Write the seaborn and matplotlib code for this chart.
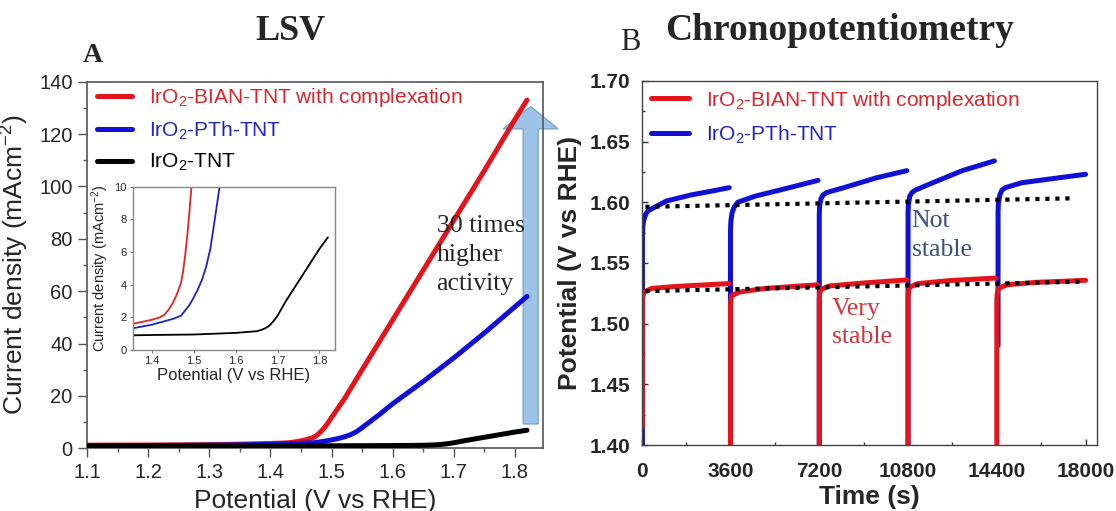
import numpy as np
import pandas as pd
import seaborn as sns
import matplotlib.pyplot as plt
from matplotlib.lines import Line2D
from matplotlib.patches import FancyArrow
from matplotlib.ticker import MultipleLocator, FormatStrFormatter

sns.set_style("ticks")
plt.rcParams["font.family"] = ["Liberation Sans", "DejaVu Sans"]
plt.rcParams["mathtext.default"] = "regular"

# ---- LSV data (potential V vs RHE, current density mA cm-2)
lsv_E_red = [1.10, 1.20, 1.30, 1.355, 1.40, 1.42, 1.43, 1.44, 1.45, 1.46, 1.47, 1.475,
             1.48, 1.485, 1.49, 1.495, 1.50, 1.52, 1.55, 1.60, 1.65, 1.70, 1.75, 1.80, 1.82]
lsv_j_red = [1.2, 1.25, 1.4, 1.6, 1.85, 2.0, 2.15, 2.45, 2.85, 3.4, 4.1, 4.8,
             5.8, 7.0, 8.4, 10.0, 11.8, 18.5, 30.0, 49.0, 68.0, 87.0, 106.0, 125.5, 133.0]
lsv_E_blue = [1.10, 1.20, 1.30, 1.355, 1.40, 1.45, 1.47, 1.49, 1.50, 1.51, 1.52, 1.53,
              1.54, 1.55, 1.562, 1.58, 1.60, 1.65, 1.70, 1.75, 1.80, 1.82]
lsv_j_blue = [1.0, 1.05, 1.2, 1.33, 1.55, 1.9, 2.1, 2.75, 3.2, 3.7, 4.3, 5.1,
              6.2, 7.9, 10.0, 13.2, 17.0, 25.5, 34.5, 44.0, 54.0, 58.0]
lsv_E_black = [1.10, 1.30, 1.40, 1.50, 1.60, 1.65, 1.66, 1.67, 1.68, 1.69, 1.70, 1.71,
               1.72, 1.74, 1.76, 1.78, 1.80, 1.82]
lsv_j_black = [0.85, 0.88, 0.92, 0.95, 1.05, 1.15, 1.22, 1.32, 1.48, 1.75, 2.1, 2.55,
               3.0, 3.8, 4.6, 5.4, 6.2, 6.9]

lsv_labels = ["IrO$_2$-BIAN-TNT with complexation", "IrO$_2$-PTh-TNT", "IrO$_2$-TNT"]

# ---- Chronopotentiometry data (time s, potential V vs RHE), one list per 1 h step
bian_t = [[30, 30, 50, 100, 400, 1300, 2600, 3550],
          [3600, 3600, 3620, 3650, 3950, 5000, 7150],
          [7200, 7200, 7220, 7260, 7600, 9000, 10750],
          [10800, 10800, 10820, 10860, 11200, 12500, 14350],
          [14400, 14400, 14420, 14460, 14800, 16000, 18000]]
bian_v = [[1.415, 1.518, 1.523, 1.526, 1.529, 1.5305, 1.532, 1.533],
          [1.40, 1.516, 1.520, 1.523, 1.526, 1.529, 1.532],
          [1.40, 1.521, 1.525, 1.528, 1.531, 1.5335, 1.536],
          [1.40, 1.522, 1.527, 1.530, 1.533, 1.5355, 1.5375],
          [1.40, 1.520, 1.525, 1.529, 1.532, 1.534, 1.5357]]
pth_t = [[30, 30, 45, 80, 160, 260, 1000, 2000, 2800, 3550],
         [3600, 3600, 3615, 3660, 3750, 3900, 4600, 5600, 7150],
         [7200, 7200, 7215, 7270, 7360, 7500, 8200, 9500, 10750],
         [10800, 10800, 10815, 10870, 10960, 11100, 11800, 13000, 14300],
         [14450, 14450, 14465, 14520, 14610, 14750, 15400, 16500, 18000]]
pth_v = [[1.40, 1.572, 1.580, 1.585, 1.590, 1.593, 1.601, 1.606, 1.609, 1.612],
         [1.40, 1.576, 1.584, 1.591, 1.596, 1.600, 1.605, 1.610, 1.618],
         [1.40, 1.590, 1.597, 1.603, 1.606, 1.608, 1.612, 1.620, 1.626],
         [1.40, 1.591, 1.598, 1.605, 1.608, 1.610, 1.616, 1.626, 1.634],
         [1.482, 1.592, 1.599, 1.606, 1.610, 1.612, 1.616, 1.619, 1.623]]
trend_upper_t = [150, 17450]
trend_upper_v = [1.5962, 1.6032]
trend_lower_t = [150, 17750]
trend_lower_v = [1.5268, 1.5345]

RED = "#e3141b"
BLUE = "#1010d8"


def segments(ts, vs):
    rows = []
    for k, (t, v) in enumerate(zip(ts, vs)):
        rows += [(k, a, b) for a, b in zip(t, v)]
    return pd.DataFrame(rows, columns=["seg", "t", "V"])


fig = plt.figure(figsize=(11.16, 5.11), dpi=100)
ax1 = fig.add_axes([0.0782, 0.1227, 0.4088, 0.7174])
ax2 = fig.add_axes([0.575, 0.129, 0.4077, 0.7129])
axin = fig.add_axes([0.1189, 0.315, 0.1813, 0.3196])

# ---------------- A: LSV
arrow = FancyArrow(1.826, 9.3, 0, 121.2, width=0.0245, head_width=0.09, head_length=8.5,
                   length_includes_head=True, fc="#9dc3e6", ec="#7ea6cf", lw=1,
                   clip_on=False, zorder=1)
ax1.add_patch(arrow)
for E, j, c in [(lsv_E_red, lsv_j_red, RED), (lsv_E_blue, lsv_j_blue, BLUE),
                (lsv_E_black, lsv_j_black, "black")]:
    sns.lineplot(x=E, y=j, color=c, lw=3.6, ax=ax1, zorder=3)
ax1.set_xlim(1.1, 1.847)
ax1.set_ylim(0, 140)
ax1.xaxis.set_major_locator(MultipleLocator(0.1))
ax1.xaxis.set_minor_locator(MultipleLocator(0.05))
ax1.yaxis.set_major_locator(MultipleLocator(20))
ax1.yaxis.set_minor_locator(MultipleLocator(10))
ax1.xaxis.set_major_formatter(FormatStrFormatter("%.1f"))
ax1.tick_params(which="major", direction="out", length=6.5, width=1, labelsize=14.5,
                pad=4, color="#555555")
ax1.tick_params(which="minor", direction="out", length=3, width=1, color="#555555")
for s in ax1.spines.values():
    s.set_color("#555555")
    s.set_linewidth(1.2)
ax1.set_xlabel("Potential (V vs RHE)", fontsize=19, labelpad=5)
ax1.set_ylabel("Current density (mAcm$^{-2}$)", fontsize=19, labelpad=6)

h1 = [Line2D([], [], color=c, lw=3.6) for c in (RED, BLUE, "black")]
leg1 = ax1.legend(h1, lsv_labels, loc="upper left", bbox_to_anchor=(0, 1.015),
                  frameon=False, fontsize=15, handlelength=1.7, handletextpad=0.8,
                  labelspacing=0.5, borderaxespad=0.1, borderpad=0.37)
for txt, c in zip(leg1.get_texts(), ("#d8262c", "#2424c0", "black")):
    txt.set_color(c)

ax1.text(1.672, 73.8, "30 times\nhigher\nactivity", family="Liberation Serif",
         fontsize=18.5, ha="left", va="center", linespacing=1.42, zorder=4)

# inset
for E, j, c in [(lsv_E_red, lsv_j_red, "#e02525"), (lsv_E_blue, lsv_j_blue, "#2020c8"),
                (lsv_E_black, lsv_j_black, "black")]:
    sns.lineplot(x=E, y=j, color=c, lw=1.3, ax=axin)
axin.set_xlim(1.355, 1.837)
axin.set_ylim(0, 10)
axin.xaxis.set_major_locator(MultipleLocator(0.1))
axin.xaxis.set_major_formatter(FormatStrFormatter("%.1f"))
axin.yaxis.set_major_locator(MultipleLocator(2))
axin.tick_params(direction="out", length=2.5, width=0.8, labelsize=8, pad=2,
                 color="#777777")
for s in axin.spines.values():
    s.set_color("#888888")
    s.set_linewidth(1)
axin.set_xlabel("Potential (V vs RHE)", fontsize=12, labelpad=1)
axin.set_ylabel("Current density (mAcm$^{-2}$)", fontsize=10.5, labelpad=2)

# ---------------- B: chronopotentiometry
sns.lineplot(data=segments(pth_t, pth_v), x="t", y="V", units="seg", estimator=None,
             sort=False, color=BLUE, lw=3.6, ax=ax2, legend=False)
sns.lineplot(data=segments(bian_t, bian_v), x="t", y="V", units="seg", estimator=None,
             sort=False, color=RED, lw=3.6, ax=ax2, legend=False)
for t, v in [(trend_upper_t, trend_upper_v), (trend_lower_t, trend_lower_v)]:
    sns.lineplot(x=t, y=v, color="black", lw=3.0, ax=ax2, zorder=5,
                 linestyle=(0, (1, 1.4)), dash_capstyle="butt")
ax2.set_xlim(0, 18450)
ax2.set_ylim(1.40, 1.70)
ax2.xaxis.set_major_locator(MultipleLocator(3600))
ax2.xaxis.set_minor_locator(MultipleLocator(1800))
ax2.yaxis.set_major_locator(MultipleLocator(0.05))
ax2.yaxis.set_minor_locator(MultipleLocator(0.025))
ax2.yaxis.set_major_formatter(FormatStrFormatter("%.2f"))
ax2.tick_params(which="major", direction="in", length=4, width=1, labelsize=15,
                color="#333333")
ax2.tick_params(axis="x", which="major", pad=12)
ax2.tick_params(axis="y", which="major", pad=8)
ax2.tick_params(which="minor", direction="in", length=2.5, width=1, color="#333333")
for lab in ax2.get_xticklabels() + ax2.get_yticklabels():
    lab.set_fontweight("bold")
for s in ax2.spines.values():
    s.set_color("#444444")
    s.set_linewidth(1)
ax2.set_xlabel("Time (s)", fontsize=19, fontweight="bold", labelpad=3)
ax2.set_ylabel("Potential (V vs RHE)", fontsize=19, fontweight="bold", labelpad=6)

h2 = [Line2D([], [], color=c, lw=3.6) for c in (RED, BLUE)]
leg2 = ax2.legend(h2, lsv_labels[:2], loc="upper left", bbox_to_anchor=(0, 1.005),
                  frameon=False, fontsize=15, handlelength=1.8, handletextpad=0.8,
                  labelspacing=0.55, borderaxespad=0.1, borderpad=0.37)
for txt, c in zip(leg2.get_texts(), ("#d8262c", "#2424c0")):
    txt.set_color(c)

ax2.text(10950, 1.5726, "Not\nstable", family="Liberation Serif", fontsize=18.5,
         color="#3c4f86", ha="left", va="center", linespacing=1.45, zorder=6)
ax2.text(7700, 1.5005, "Very\nstable", family="Liberation Serif", fontsize=18.5,
         color="#d7333a", ha="left", va="center", linespacing=1.3, zorder=6)

# titles and panel letters
fig.text(290 / 1116, 1 - 32 / 511, "LSV", family="Liberation Serif", fontsize=26,
         fontweight="bold", ha="center", va="center")
fig.text(840 / 1116, 1 - 30 / 511, "Chronopotentiometry", family="Liberation Serif",
         fontsize=27, fontweight="bold", ha="center", va="center")
fig.text(83 / 1116, 1 - 55 / 511, "A", family="Liberation Serif", fontsize=20,
         fontweight="bold", ha="left", va="center")
fig.text(620 / 1116, 1 - 42 / 511, "B", family="Liberation Serif", fontsize=22,
         ha="left", va="center")

fig.savefig("out.png", dpi=100)
